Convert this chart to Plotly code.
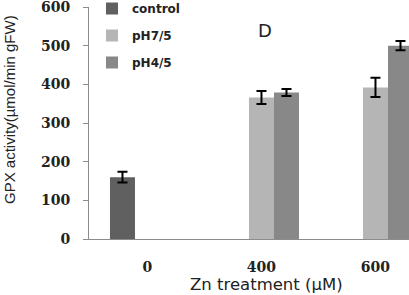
import plotly.graph_objects as go

categories = ["0", "400", "600"]
series_names = ["control", "pH7/5", "pH4/5"]
control = [160, None, None]
control_err = [14, 0, 0]
ph75 = [None, 366, 392]
ph75_err = [0, 17, 25]
ph45 = [None, 379, 500]
ph45_err = [0, 9, 12]
colors = ["#606060", "#b5b5b5", "#888888"]

W, H = 409, 295
ML, MR, MT, MB = 89, 0, 7, 56
pw, ph = W - ML - MR, H - MT - MB
def px(xp): return (xp - ML) / pw
def py(yp): return (H - MB - yp) / ph

xpos = list(range(len(categories)))
fig = go.Figure()
for name, vals, errs, col in zip(series_names, [control, ph75, ph45],
                                 [control_err, ph75_err, ph45_err], colors):
    fig.add_trace(go.Bar(
        x=xpos, y=vals, name=name, marker_color=col, marker_line_width=0,
        legendgroup=name, cliponaxis=False,
        error_y=dict(type="data", array=errs, color="black", thickness=2, width=5),
    ))

tickfont = dict(family="DejaVu Serif", size=14, color="#222222", weight="bold")
fig.update_layout(
    width=W, height=H,
    margin=dict(l=ML, r=MR, t=MT, b=MB, autoexpand=False),
    paper_bgcolor="white", plot_bgcolor="white",
    barmode="group", bargap=0.342, bargroupgap=0,
    showlegend=True,
    legend=dict(x=px(92), y=py(-6), xanchor="left", yanchor="top",
                font=dict(family="DejaVu Sans", size=12, color="#222222", weight="bold"),
                tracegroupgap=8, bgcolor="rgba(0,0,0,0)", itemwidth=30),
    xaxis=dict(range=[-0.513, 2.294], tickvals=xpos, ticktext=categories,
               showline=True, linecolor="#8c8c8c", linewidth=1, automargin=False,
               ticks="", showgrid=False, zeroline=False,
               ticklabelstandoff=15, ticklabeloverflow="allow", tickfont=tickfont),
    yaxis=dict(range=[0, 600], dtick=100, showline=True, linecolor="#8c8c8c", linewidth=1,
               automargin=False, ticklabeloverflow="allow",
               ticks="outside", ticklen=5, tickcolor="#8c8c8c", showgrid=False, zeroline=False,
               ticklabelstandoff=10, tickfont=tickfont),
    annotations=[
        dict(text="Zn treatment (µM)", x=px(266), y=py(284), xref="paper", yref="paper",
             xanchor="center", yanchor="middle", showarrow=False,
             font=dict(family="DejaVu Sans", size=16.5, color="#222222")),
        dict(text="GPX activity(µmol/min gFW)", x=px(9), y=py(110), xref="paper", yref="paper",
             xanchor="center", yanchor="middle", textangle=-90, showarrow=False,
             font=dict(family="Liberation Sans", size=15, color="#222222")),
        dict(text="D", x=px(265), y=py(31), xref="paper", yref="paper",
             xanchor="center", yanchor="middle", showarrow=False,
             font=dict(family="DejaVu Sans", size=18, color="#222222")),
    ],
)

fig.write_html("out.html", config={"displayModeBar": False},
               post_script="document.body.style.margin='0';document.body.style.overflow='hidden';")
